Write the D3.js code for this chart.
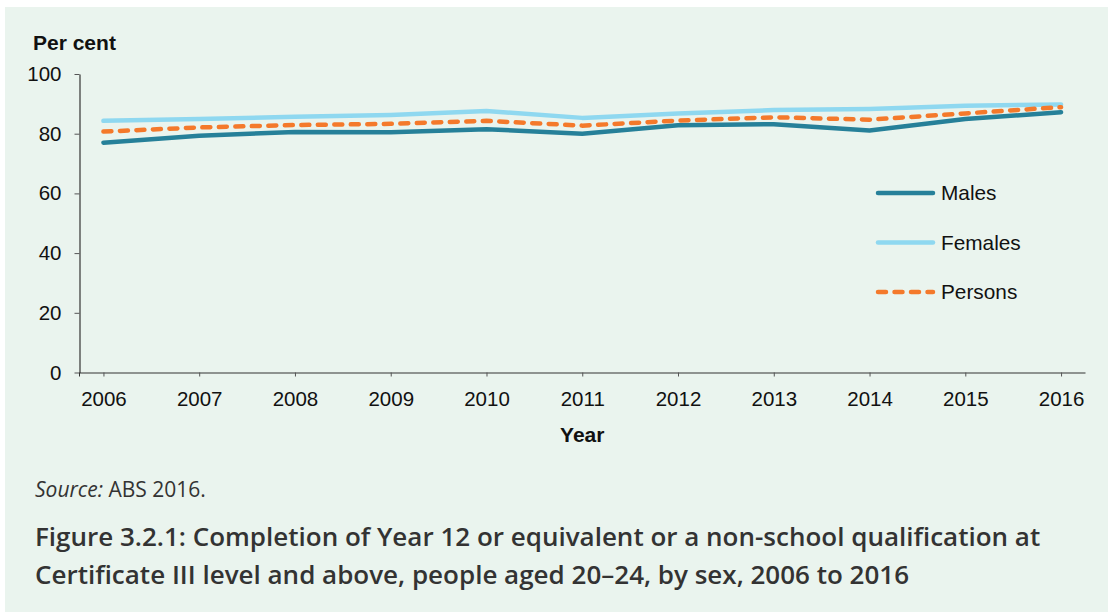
<!DOCTYPE html>
<html>
<head>
<meta charset="utf-8">
<script src="https://cdn.jsdelivr.net/npm/d3@7"></script>
<style>
    body { margin: 0; background: #fff; }
    svg { display: block; }
</style>
</head>
<body>
<svg id="chart"></svg>
<script>
// values (per cent)
const years = ["2006", "2007", "2008", "2009", "2010", "2011", "2012", "2013", "2014", "2015", "2016"];
const males = [77.0, 79.3, 80.6, 80.5, 81.5, 80.0, 82.8, 83.2, 81.1, 84.9, 87.2];
const females = [84.3, 84.9, 85.7, 86.3, 87.6, 85.3, 86.8, 87.9, 88.3, 89.4, 89.8];
const persons = [80.7, 82.1, 82.9, 83.3, 84.3, 82.7, 84.4, 85.5, 84.7, 86.8, 88.9];
const yTicks = [0, 20, 40, 60, 80, 100];

const seriesNames = ["Males", "Females", "Persons"];
const seriesColors = ["#268099", "#8fd8f0", "#f4792b"];

const width = 1108;
const height = 612;
const tickFont = "Liberation Sans, Arial, sans-serif";
const textFont = "'Open Sans', sans-serif";

const svg = d3.select("#chart")
    .attr("width", width)
    .attr("height", height);

// panel background
svg.append("rect")
    .attr("x", 5)
    .attr("y", 7)
    .attr("width", width - 5)
    .attr("height", height - 7)
    .attr("fill", "#eaf4ee");

const x = d3.scalePoint()
    .domain(years)
    .range([79.5, 1085])
    .padding(0.25);

const y = d3.scaleLinear()
    .domain([0, 100])
    .range([372.5, 74]);

// x axis
const gx = svg.append("g")
    .attr("transform", `translate(0,${y(0)})`)
    .call(d3.axisBottom(x).tickSize(4).tickSizeOuter(0).tickPadding(15));

// y axis
const gy = svg.append("g")
    .attr("transform", `translate(${x.range()[0]},0)`)
    .call(d3.axisLeft(y).tickValues(yTicks).tickSize(5).tickSizeOuter(0).tickPadding(13));

// small stub of the y axis below the baseline
gy.append("line")
    .attr("y1", y(0))
    .attr("y2", y(0) + 4)
    .attr("stroke", "#333");

[gx, gy].forEach(g => {
    g.select(".domain").attr("stroke", "#333").attr("stroke-width", 1.2);
    g.selectAll(".tick line").attr("stroke", "#555");
    g.selectAll(".tick text")
        .attr("fill", "#111")
        .attr("font-family", tickFont)
        .attr("font-size", 20.5);
});

// axis titles
svg.append("text")
    .attr("x", 33)
    .attr("y", 50)
    .attr("font-family", tickFont)
    .attr("font-size", 21)
    .attr("font-weight", "bold")
    .attr("fill", "#111")
    .text("Per cent");

svg.append("text")
    .attr("x", d3.mean(x.range()))
    .attr("y", 442)
    .attr("text-anchor", "middle")
    .attr("font-family", tickFont)
    .attr("font-size", 21)
    .attr("font-weight", "bold")
    .attr("fill", "#111")
    .text("Year");

// lines
const series = [
    { name: "Females", values: females, color: seriesColors[1], dash: null },
    { name: "Males", values: males, color: seriesColors[0], dash: null },
    { name: "Persons", values: persons, color: seriesColors[2], dash: "8,8.5" }
];

const line = d3.line()
    .x((d, i) => x(years[i]))
    .y(d => y(d));

svg.append("g")
    .selectAll("path")
    .data(series)
    .join("path")
    .attr("d", d => line(d.values))
    .attr("fill", "none")
    .attr("stroke", d => d.color)
    .attr("stroke-width", 4.5)
    .attr("stroke-linecap", "round")
    .attr("stroke-linejoin", "round")
    .attr("stroke-dasharray", d => d.dash);

// legend
const legend = svg.append("g")
    .attr("transform", "translate(878,193)")
    .selectAll("g")
    .data(seriesNames)
    .join("g")
    .attr("transform", (d, i) => `translate(0,${i * 49.5})`);

legend.append("line")
    .attr("x1", 0)
    .attr("x2", 55)
    .attr("stroke", (d, i) => seriesColors[i])
    .attr("stroke-width", 4.5)
    .attr("stroke-linecap", "round")
    .attr("stroke-dasharray", d => d === "Persons" ? "8,8.5" : null);

legend.append("text")
    .attr("x", 63)
    .attr("dy", "0.35em")
    .attr("font-family", tickFont)
    .attr("font-size", 20.8)
    .attr("fill", "#111")
    .text(d => d);

// source and caption
const source = svg.append("text")
    .attr("x", 35)
    .attr("y", 497)
    .attr("font-family", textFont)
    .attr("font-size", 21)
    .attr("fill", "#333");
source.append("tspan").attr("font-style", "italic").text("Source:");
source.append("tspan").text(" ABS 2016.");

const caption = [
    "Figure 3.2.1: Completion of Year 12 or equivalent or a non-school qualification at",
    "Certificate III level and above, people aged 20\u201324, by sex, 2006 to 2016"
];

svg.append("g")
    .selectAll("text")
    .data(caption)
    .join("text")
    .attr("x", 35)
    .attr("y", (d, i) => 546 + i * 38)
    .attr("font-family", textFont)
    .attr("font-size", 26)
    .attr("font-weight", 600)
    .attr("fill", "#333")
    .text(d => d);
</script>
</body>
</html>
